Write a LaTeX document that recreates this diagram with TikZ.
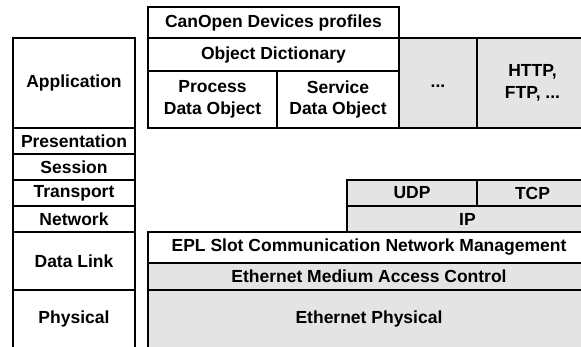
\documentclass[tikz,border=0pt]{standalone}
\usepackage{fontspec}
\setmainfont{Liberation Sans}
\definecolor{boxgray}{RGB}{228,228,228}
\begin{document}
\begin{tikzpicture}[x=1pt,y=-1pt,
  box/.style={draw=black, line width=1.5pt, rectangle, inner sep=0pt, align=center,
    font=\fontsize{17.5}{21.5}\selectfont\bfseries},
  gbox/.style={box, fill=boxgray}]
\useasboundingbox (0,0) rectangle (581,346);
% OSI column
\node[box, minimum width=122pt, minimum height=90pt] (app) at (74,83) {Application};
\node[box, minimum width=122pt, minimum height=26pt] (pres) at (74,141) {Presentation};
\node[box, minimum width=122pt, minimum height=26pt] (sess) at (74,167) {Session};
\node[box, minimum width=122pt, minimum height=26pt] (trans) at (74,193) {Transport};
\node[box, minimum width=122pt, minimum height=26pt] (net) at (74,219) {Network};
\node[box, minimum width=122pt, minimum height=58pt] (dl) at (74,261) {Data Link};
\node[box, minimum width=122pt, minimum height=58pt] (phy) at (74,319) {Physical};
% EPL stack
\node[box, minimum width=251pt, minimum height=31pt] (cop) at (273.5,22.5) {CanOpen Devices profiles};
\node[box, minimum width=251pt, minimum height=33pt] (od) at (273.5,54.5) {Object Dictionary};
\node[box, minimum width=129pt, minimum height=57pt] (pdo) at (212.5,99.5) {Process\\Data Object};
\node[box, minimum width=122pt, minimum height=57pt] (sdo) at (338,99.5) {Service\\Data Object};
\node[gbox, minimum width=78pt, minimum height=90pt] (dots) at (438,83) {\vphantom{Ag}...};
\node[gbox, minimum width=111pt, minimum height=90pt] (http) at (532.5,83) {HTTP,\\FTP, ...};
\node[gbox, minimum width=130pt, minimum height=26pt] (udp) at (412,193) {UDP};
\node[gbox, minimum width=111pt, minimum height=26pt] (tcp) at (532.5,193) {TCP};
\node[gbox, minimum width=241pt, minimum height=26pt] (ip) at (467.5,219) {IP};
\node[box, minimum width=442pt, minimum height=31pt] (epl) at (369,247.5) {EPL Slot Communication Network Management};
\node[gbox, minimum width=442pt, minimum height=27pt] (mac) at (369,276.5) {Ethernet Medium Access Control};
\node[gbox, minimum width=442pt, minimum height=58pt] (ephy) at (369,319) {Ethernet Physical};
\end{tikzpicture}
\end{document}
